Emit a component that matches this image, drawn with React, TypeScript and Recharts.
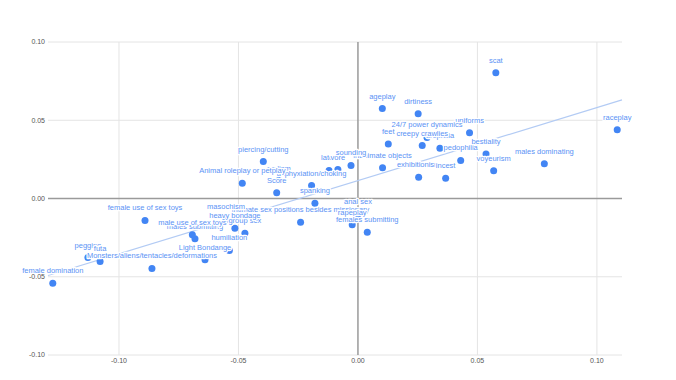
import { ScatterChart, Scatter, XAxis, YAxis, ReferenceLine } from 'recharts';

// labels, in the order they are drawn (later labels sit on top)
const names = [
  'female domination', 'pegging', 'futa', 'Monsters/aliens/tentacles/deformations',
  'female use of sex toys', 'males submitting', 'male use of sex toys', 'Light Bondange',
  'humiliation', 'group sex', 'intimate sex positions besides missionary', 'heavy bondage',
  'masochism', 'spanking', 'rapeplay', 'females submitting', 'anal sex', 'sadism', 'Score',
  'latex', 'vore', 'asphyxiation/choking', 'Animal roleplay or petplay', 'piercing/cutting',
  'inanimate objects', 'sounding', 'exhibitionism', 'incest', 'pedophilia', 'voyeurism',
  'bestiality', 'males dominating', 'urophilia', 'creepy crawlies', 'feet', 'uniforms',
  '24/7 power dynamics', 'ageplay', 'dirtiness', 'scat', 'raceplay',
];

const xValues = [
  -0.1277, -0.113, -0.1079, -0.0862,
  -0.0891, -0.0682, -0.0693, -0.064,
  -0.0538, -0.0473, -0.024, -0.0515,
  -0.0552, -0.018, -0.0024, 0.0039, 0.0, -0.0331, -0.034,
  -0.0121, -0.0084, -0.0194, -0.0484, -0.0396,
  0.0103, -0.0029, 0.0254, 0.0367, 0.043, 0.0568,
  0.0536, 0.078, 0.0343, 0.0269, 0.0127, 0.0467,
  0.0289, 0.0102, 0.0252, 0.0577, 0.1085,
];

const yValues = [
  -0.0541, -0.0377, -0.0402, -0.0447,
  -0.014, -0.0257, -0.0232, -0.0391,
  -0.0332, -0.0222, -0.0151, -0.019,
  -0.0134, -0.003, -0.0168, -0.0215, -0.0102, 0.0115, 0.0036,
  0.0179, 0.0185, 0.0083, 0.0098, 0.0236,
  0.0196, 0.0211, 0.0136, 0.013, 0.0243, 0.0177,
  0.0285, 0.0222, 0.0321, 0.0338, 0.0349, 0.042,
  0.039, 0.0575, 0.0541, 0.0803, 0.0439,
];

// linear trendline end points
const trendX = [-0.1297, 0.1105];
const trendY = [-0.0492, 0.063];

const xTicks = [-0.1, -0.05, 0, 0.05, 0.1];
const yTicks = [-0.1, -0.05, 0, 0.05, 0.1];

const points = names.map((name, i) => ({ name, x: xValues[i], y: yValues[i] }));
const trend = trendX.map((x, i) => ({ x, y: trendY[i] }));

const BLUE = '#4285f4';
const GRID = '#e4e4e4';
const tickStyle = { fontSize: 7, fill: '#555', fontFamily: 'Liberation Sans, Arial, sans-serif' };

const Dot = (props: any) => {
  const { cx, cy } = props;
  return <circle cx={cx} cy={cy} r={3.5} fill={BLUE} />;
};

const Annotation = (props: any) => {
  const { cx, cy, payload } = props;
  return (
    <text
      x={cx}
      y={cy - 10}
      textAnchor="middle"
      fontSize={7.5}
      fontFamily="Liberation Sans, Arial, sans-serif"
      fill="#5b93f5"
      stroke="#fff"
      strokeWidth={2.5}
      paintOrder="stroke"
      strokeLinejoin="round"
    >
      {payload.name}
    </text>
  );
};

export default function App() {
  return (
    <div style={{ position: 'absolute', left: 0, top: 0, background: '#fff' }}>
      <ScatterChart width={676} height={380} margin={{ top: 42, right: 54, bottom: 0, left: 0 }}>
        <XAxis
          type="number"
          dataKey="x"
          domain={[-0.1297, 0.1105]}
          ticks={xTicks}
          tickFormatter={(v: number) => v.toFixed(2)}
          axisLine={false}
          tickLine={false}
          tickSize={3}
          tickMargin={0}
          height={25}
          tick={tickStyle}
        />
        <YAxis
          type="number"
          dataKey="y"
          domain={[-0.1, 0.1]}
          ticks={yTicks}
          tickFormatter={(v: number) => v.toFixed(2)}
          axisLine={false}
          tickLine={false}
          tickSize={3}
          tickMargin={0}
          width={48}
          tick={tickStyle}
        />
        {/* gridlines only at the tick values */}
        {xTicks.filter((t) => t !== 0).map((t) => (
          <ReferenceLine key={'gx' + t} x={t} stroke={GRID} strokeWidth={1} />
        ))}
        {yTicks.filter((t) => t !== 0).map((t) => (
          <ReferenceLine key={'gy' + t} y={t} stroke={GRID} strokeWidth={1} />
        ))}
        <ReferenceLine x={0} stroke="#9a9a9a" strokeWidth={1.5} />
        <ReferenceLine y={0} stroke="#9a9a9a" strokeWidth={1.5} />
        <Scatter
          data={trend}
          line={{ stroke: '#b3cbf4', strokeWidth: 1.2 }}
          shape={() => null}
          isAnimationActive={false}
        />
        <Scatter data={points} shape={Dot} isAnimationActive={false} />
        <Scatter data={points} shape={Annotation} isAnimationActive={false} />
      </ScatterChart>
    </div>
  );
}
